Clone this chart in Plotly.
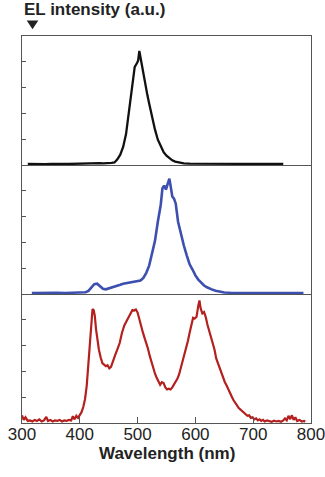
import plotly.graph_objects as go

# ---- data ----
black_wl = [310, 320, 330, 340, 350, 360, 370, 380, 390, 400, 410, 420, 425, 430, 435, 440, 450,
            455, 460, 465, 470, 475, 480, 485, 490, 495, 499, 501, 503, 505, 508, 511, 514, 517,
            520, 525, 530, 535, 540, 545, 550, 555, 560, 565, 570, 575, 580, 590, 600, 620, 640,
            660, 680, 700, 720, 740, 752]
black_int = [0.04, 0.03, 0.04, 0.03, 0.04, 0.03, 0.04, 0.04, 0.05, 0.05, 0.06, 0.07, 0.08, 0.08,
             0.07, 0.06, 0.06, 0.08, 0.10, 0.22, 0.40, 0.70, 1.20, 2.00, 2.90, 3.80, 3.95, 4.05,
             4.42, 4.15, 3.90, 3.40, 3.10, 2.70, 2.38, 1.85, 1.38, 0.98, 0.72, 0.50, 0.36, 0.26,
             0.18, 0.13, 0.10, 0.08, 0.06, 0.05, 0.05, 0.04, 0.05, 0.04, 0.05, 0.04, 0.05, 0.04, 0.04]

blue_wl = [317, 330, 345, 360, 375, 390, 400, 405, 410, 415, 420, 425, 430, 435, 440, 445, 450,
           455, 460, 465, 470, 475, 480, 485, 490, 495, 500, 505, 510, 515, 520, 525, 530, 535,
           540, 543, 546, 549, 552, 555, 557, 560, 563, 566, 570, 575, 580, 585, 590, 595, 600,
           605, 610, 615, 620, 625, 630, 635, 640, 645, 650, 660, 680, 700, 720, 740, 760, 787]
blue_int = [0.04, 0.05, 0.04, 0.05, 0.04, 0.05, 0.05, 0.06, 0.07, 0.12, 0.24, 0.38, 0.40, 0.28,
            0.20, 0.18, 0.21, 0.25, 0.29, 0.33, 0.36, 0.40, 0.42, 0.44, 0.46, 0.46, 0.48, 0.52,
            0.62, 0.82, 1.10, 1.55, 2.05, 2.80, 3.45, 4.10, 4.20, 4.05, 4.25, 4.47, 4.20, 3.78,
            3.70, 3.50, 2.80, 2.30, 1.88, 1.50, 1.15, 0.95, 0.72, 0.56, 0.44, 0.33, 0.26, 0.20,
            0.16, 0.13, 0.10, 0.08, 0.06, 0.05, 0.05, 0.04, 0.05, 0.04, 0.05, 0.04]

red_wl = [300, 303, 306, 310, 314, 318, 322, 326, 330, 334, 338, 342, 345, 349, 353, 357, 361,
          365, 369, 373, 377, 381, 385, 388, 391, 394, 397, 400, 403, 406, 409, 412, 415, 418,
          420, 422, 424, 426, 428, 430, 433, 436, 439, 442, 445, 448, 451, 454, 457, 461, 465,
          469, 473, 477, 481, 485, 488, 491, 494, 497, 500, 503, 506, 509, 512, 515, 518, 521,
          524, 527, 530, 533, 536, 539, 542, 545, 548, 551, 554, 557, 560, 563, 566, 569, 572,
          575, 578, 581, 584, 587, 590, 593, 596, 599, 602, 605, 607, 609, 612, 615, 618, 621,
          624, 627, 630, 633, 636, 639, 642, 645, 648, 651, 654, 657, 660, 663, 666, 669, 672,
          675, 678, 681, 684, 687, 690, 693, 696, 699, 702, 705, 708, 711, 714, 717, 720, 724,
          728, 732, 736, 740, 744, 748, 752, 755, 758, 761, 764, 767, 770, 773, 776, 780, 784,
          788, 790]
red_int = [0.30, 0.12, 0.22, 0.08, 0.10, 0.06, 0.12, 0.08, 0.14, 0.06, 0.10, 0.24, 0.08, 0.12,
           0.06, 0.10, 0.08, 0.12, 0.06, 0.10, 0.08, 0.12, 0.10, 0.26, 0.14, 0.28, 0.20, 0.30,
           0.42, 0.62, 0.92, 1.45, 2.40, 3.50, 4.10, 4.42, 4.38, 4.15, 3.65, 3.25, 2.85, 2.55,
           2.32, 2.26, 2.20, 2.24, 2.12, 2.18, 2.40, 2.62, 2.85, 3.10, 3.50, 3.78, 3.95, 4.12,
           4.30, 4.38, 4.36, 4.40, 4.28, 4.00, 3.80, 3.52, 3.30, 3.10, 2.88, 2.60, 2.35, 2.15,
           1.92, 1.75, 1.62, 1.48, 1.58, 1.55, 1.38, 1.30, 1.33, 1.30, 1.38, 1.48, 1.60, 1.72,
           1.90, 2.15, 2.38, 2.62, 2.92, 3.18, 3.50, 3.82, 4.08, 4.05, 4.12, 4.55, 4.75, 4.45,
           4.25, 4.30, 4.10, 3.80, 3.58, 3.28, 3.12, 2.85, 2.50, 2.30, 2.12, 1.92, 1.78, 1.58,
           1.45, 1.28, 1.15, 1.02, 0.88, 0.80, 0.68, 0.58, 0.52, 0.44, 0.38, 0.33, 0.28, 0.30,
           0.20, 0.22, 0.14, 0.18, 0.10, 0.14, 0.08, 0.12, 0.06, 0.10, 0.08, 0.05, 0.09, 0.06,
           0.08, 0.05, 0.10, 0.18, 0.10, 0.28, 0.15, 0.30, 0.12, 0.22, 0.08, 0.12, 0.06, 0.08,
           0.05]

x_ticks = [300, 400, 500, 600, 700, 800]
x_ticktext = ["300", "400", "500", "600", "700", "800"]
y_ticks = [1, 2, 3, 4]

series = [
    (black_wl, black_int, "#111111", 2.3),
    (blue_wl, blue_int, "#3D4FAF", 2.6),
    (red_wl, red_int, "#B3201E", 2.2),
]

FONT = "Liberation Sans, Arial, Helvetica, sans-serif"
FRAME = "#555555"
TXT = "#222222"

fig = go.Figure()
for i, (wx, wy, col, lw) in enumerate(series, start=1):
    fig.add_trace(go.Scatter(x=wx, y=wy, mode="lines",
                             line=dict(color=col, width=lw),
                             xaxis="x" if i == 1 else f"x{i}",
                             yaxis="y" if i == 1 else f"y{i}",
                             showlegend=False, hoverinfo="skip"))

T, B = 36.0, 54.3
H = 477 - T - B
domains = [[2 / 3, 1.0], [1 / 3, 2 / 3], [0.0, 1 / 3]]
layout = dict(
    width=325, height=477,
    margin=dict(l=22, r=14.3, t=T, b=B, autoexpand=False),
    paper_bgcolor="white", plot_bgcolor="white",
    font=dict(family=FONT, color=TXT, size=17),
)
for i in range(1, 4):
    xk = "xaxis" if i == 1 else f"xaxis{i}"
    yk = "yaxis" if i == 1 else f"yaxis{i}"
    ya = "y" if i == 1 else f"y{i}"
    xa = "x" if i == 1 else f"x{i}"
    bottom = i == 3
    layout[xk] = dict(
        range=[300, 800], anchor=ya, domain=[0, 1], automargin=False,
        showline=True, mirror=(i == 1), linecolor=FRAME, linewidth=1.3,
        showgrid=False, zeroline=False,
        tickvals=x_ticks if bottom else [], ticktext=x_ticktext if bottom else [],
        ticks="inside" if bottom else "", ticklen=6, tickwidth=1.2, tickcolor=FRAME,
        showticklabels=bottom, ticklabeloverflow="allow", ticklabelstandoff=-5,
        tickfont=dict(family=FONT, size=17, color=TXT),
    )
    if not bottom:
        layout[xk]["matches"] = "x3"
    layout[yk] = dict(
        range=[0, 5], anchor=xa, domain=domains[i - 1], automargin=False,
        showline=True, mirror=True, linecolor=FRAME, linewidth=1.3,
        showgrid=False, zeroline=False,
        tickvals=y_ticks, ticks="inside", ticklen=4, tickwidth=1.2, tickcolor=FRAME,
        showticklabels=False,
    )

def py(p):
    """pixel row -> paper y"""
    return (477 - B - p) / H

layout["annotations"] = [
    dict(text="<b>EL intensity (a.u.)</b>", xref="paper", yref="paper",
         x=0, y=py(10), xanchor="left", yanchor="middle", showarrow=False,
         font=dict(family=FONT, size=17, color=TXT)),
    dict(text="<b>Wavelength (nm)</b>", xref="paper", yref="paper",
         x=0.5, y=py(453), xanchor="center", yanchor="middle", showarrow=False,
         font=dict(family=FONT, size=17, color=TXT)),
]
layout["shapes"] = [dict(
    type="path", xref="paper", yref="paper",
    path=f"M 0.0163 {py(20.5):.4f} L 0.0565 {py(20.5):.4f} L 0.0364 {py(29.3):.4f} Z",
    fillcolor=TXT, line=dict(width=0),
)]

fig.update_layout(**layout)
fig.write_html("out.html")
